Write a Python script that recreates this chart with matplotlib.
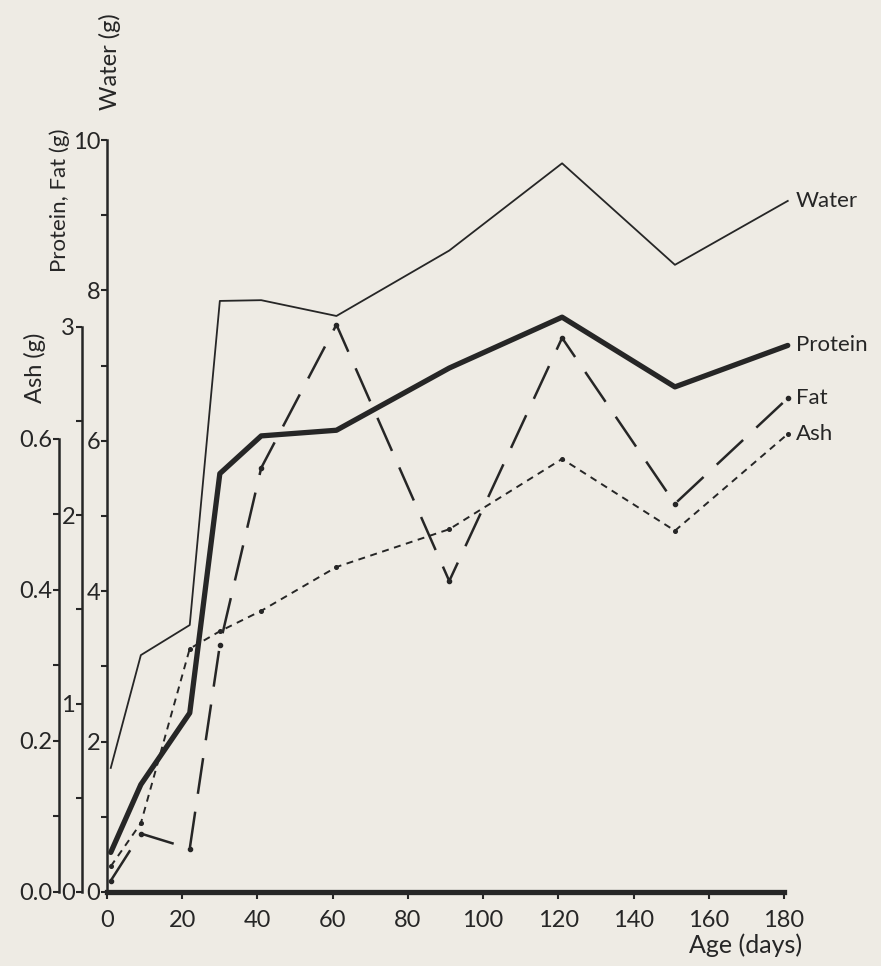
import matplotlib
matplotlib.use('Agg')
import matplotlib.pyplot as plt
import matplotlib.ticker as mticker

plt.rcParams['font.family'] = ['Lato', 'DejaVu Sans']
plt.rcParams['lines.scale_dashes'] = False

# values (g), age in days
days = [1, 9, 22, 30, 41, 61, 91, 121, 151, 181]
water = [1.65, 3.15, 3.55, 7.86, 7.87, 7.66, 8.53, 9.69, 8.34, 9.19]
protein = [0.21, 0.57, 0.95, 2.22, 2.42, 2.45, 2.78, 3.05, 2.68, 2.90]
fat = [0.06, 0.31, 0.23, 1.31, 2.25, 3.01, 1.65, 2.94, 2.06, 2.62]
ash = [0.034, 0.091, 0.322, 0.345, 0.372, 0.43, 0.48, 0.573, 0.478, 0.606]

xticks = [0, 20, 40, 60, 80, 100, 120, 140, 160, 180]
water_ticks = [0, 2, 4, 6, 8, 10]
protein_ticks = [0, 1, 2, 3]
ash_ticks = [0.0, 0.2, 0.4, 0.6]

bg = '#eeebe4'
ink = '#262626'

W, H = 881, 966
fig = plt.figure(figsize=(W / 100, H / 100), dpi=100, facecolor=bg)
rect = [107 / W, (H - 892) / H, 677 / W, 752 / H]

ax = fig.add_axes(rect)
ax.set_facecolor('none')
axp = fig.add_axes(rect, facecolor='none')
axa = fig.add_axes(rect, facecolor='none')

# water axis (main)
ax.set_xlim(0, 180)
ax.set_ylim(0, 10)
ax.set_xticks(xticks)
ax.set_yticks(water_ticks)
ax.yaxis.set_minor_locator(mticker.FixedLocator([1, 3, 5, 7, 9]))
for s in ['top', 'right']:
    ax.spines[s].set_visible(False)
ax.spines['left'].set_linewidth(1.8)
ax.spines['bottom'].set_linewidth(3.8)
ax.spines['left'].set_color(ink)
ax.spines['bottom'].set_color(ink)
ax.tick_params(axis='y', which='both', direction='out', length=4, width=1.5,
               pad=1, labelsize=17, colors=ink)
ax.tick_params(axis='x', direction='out', length=5, width=1.5, pad=8,
               labelsize=17, colors=ink)

# protein / fat axis and ash axis
for a, top, off, ticks, minor in [
        (axp, 3.99, -25, protein_ticks, [0.5, 1.5, 2.5]),
        (axa, 0.995, -48, ash_ticks, [0.1, 0.3, 0.5])]:
    a.set_xlim(0, 180)
    a.set_ylim(0, top)
    a.xaxis.set_visible(False)
    for s in ['top', 'right', 'bottom']:
        a.spines[s].set_visible(False)
    a.spines['left'].set_position(('axes', off / 677))
    a.spines['left'].set_bounds(0, ticks[-1])
    a.spines['left'].set_linewidth(1.8)
    a.spines['left'].set_color(ink)
    a.set_yticks(ticks)
    a.yaxis.set_minor_locator(mticker.FixedLocator(minor))
    a.tick_params(axis='y', which='both', direction='out', length=4, width=1.5,
                  pad=1, labelsize=17, colors=ink)

axa.yaxis.set_major_formatter(mticker.FormatStrFormatter('%.1f'))

ax.plot(days, water, color=ink, lw=1.3, clip_on=False)
axp.plot(days, protein, color=ink, lw=3.8, clip_on=False, solid_capstyle='round')
axp.plot(days, fat, color=ink, lw=1.8, dashes=(26, 13), clip_on=False,
         marker='o', ms=3, mec=ink, mfc=ink)
axa.plot(days, ash, color=ink, lw=1.4, dashes=(5, 4), clip_on=False,
         marker='o', ms=2.6, mec=ink, mfc=ink)

for a, name, vals in [(ax, 'Water', water), (axp, 'Protein', protein),
                      (axp, 'Fat', fat), (axa, 'Ash', ash)]:
    a.annotate(name, xy=(days[-1], vals[-1]), xytext=(6, 0),
               textcoords='offset points', ha='left', va='center',
               fontsize=16, color=ink, annotation_clip=False)

fig.text(35 / W, 1 - 368 / H, 'Ash (g)', rotation=90, ha='center', va='center',
         fontsize=17, color=ink)
fig.text(60 / W, 1 - 200 / H, 'Protein, Fat (g)', rotation=90, ha='center',
         va='center', fontsize=16, color=ink)
fig.text(110 / W, 1 - 62 / H, 'Water (g)', rotation=90, ha='center', va='center',
         fontsize=17, color=ink)
fig.text(802 / W, 1 - 945 / H, 'Age (days)', ha='right', va='center',
         fontsize=18, color=ink)

fig.savefig('out.png', dpi=100, facecolor=bg)
